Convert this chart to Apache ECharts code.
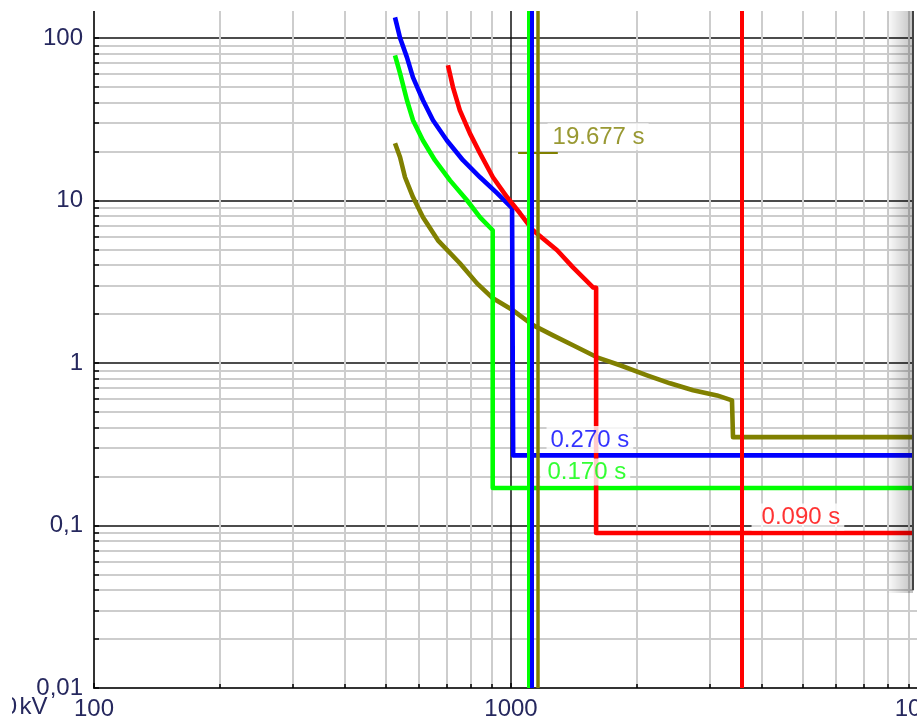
<!DOCTYPE html>
<html><head><meta charset="utf-8">
<script src="https://cdn.jsdelivr.net/npm/echarts@6/dist/echarts.min.js"></script>
<style>html,body{margin:0;padding:0;background:#fff}#c{width:917px;height:722px}</style>
</head><body><div id="c"></div>
<script>
// ---- data (current in A, time in s) ----
const xDecades = [100, 1000, 10000];
const yDecades = [0.01, 0.1, 1, 10, 100];
const blueCurve = [[527,134],[542,100],[563,76],[582,57.3],[615,41.4],[650,31.2],[702,23.4],[767,17.7],[843,13.9],[926,11.1],[1006,8.96],[1012,8.9],[1012,0.27],[10000,0.27]];
const greenCurve = [[527,78.3],[542,60.6],[563,41.4],[582,31.2],[615,23.4],[657,17.7],[714,13.3],[785,10.0],[843,7.88],[904,6.56],[904,0.17],[10000,0.17]];
const redCurve = [[706,67.9],[726,49.7],[754,35.9],[797,25.9],[843,19.5],[905,13.9],[978,10.5],[1051,8.34],[1129,6.56],[1290,4.94],[1408,3.88],[1573,2.92],[1600,2.9],[1600,0.09],[10000,0.09]];
const oliveCurve = [[527,22.5],[542,18.45],[557,13.9],[582,10.5],[615,7.88],[668,5.69],[754,4.11],[829,3.09],[905,2.5],[1011,2.11],[1129,1.71],[1261,1.48],[1408,1.285],[1608,1.084],[1826,0.968],[2120,0.84],[2406,0.75],[2733,0.679],[3119,0.632],[3388,0.589],[3407,0.58],[3407,0.35],[10000,0.35]];
const limitGreen = 1100, limitBlue = 1123, limitOlive = 1159, limitRed = 3575;
const oliveMarkTime = 19.677;
const oliveMarkRange = [1040, 1295];
const labelTexts = ['19.677 s', '0.270 s', '0.170 s', '0.090 s'];
const labelAnchors = [[1227, 19.677], [1220, 0.27], [1180, 0.17], [3785, 0.09]];

const C = {blue:'#0000ff', green:'#00ff00', red:'#ff0000', olive:'#808000'};
const FONT = 'Liberation Sans, Arial, sans-serif';
const AXC = '#26285e';

function fmt(v){
  const n = Number(v.toPrecision(6));
  return String(n).replace('.', ',');
}

function curve(name, data, color, limitX, extra){
  const ml = {
    silent:true, symbol:'none', animation:false,
    label:{show:false},
    lineStyle:{color:color, width: name==='olive'?3.5:4, type:'solid'},
    data:[{xAxis:limitX}]
  };
  if (extra) ml.data.push(extra);
  return {
    name, type:'line', data, showSymbol:false, symbol:'none',
    lineStyle:{color, width:4.6, join:'round'}, itemStyle:{color},
    animation:false, markLine: ml
  };
}

const labelColors = [C.olive, C.blue, C.green, C.red];
const labelPads = [[2,4,1,5],[2,4,1,4],[2,4,1,7],[2,4,1,10]];

const chart = echarts.init(document.getElementById('c'), null, {renderer:'canvas'});
chart.setOption({
  animation:false,
  backgroundColor:'#fff',
  grid:{left:94, width:834, bottom:34, height:812.5, containLabel:false, outerBoundsMode:'none'},
  xAxis:{
    type:'log', logBase:10, min:xDecades[0], max:xDecades[xDecades.length-1],
    axisLine:{show:true, onZero:false, lineStyle:{color:'#333', width:2}},
    axisTick:{show:true, inside:true, length:5, lineStyle:{color:'#000', width:1.5}},
    minorTick:{show:true, splitNumber:9, length:4, lineStyle:{color:'#000', width:1.5}},
    splitLine:{show:true, lineStyle:{color:'#111', width:1.5}},
    minorSplitLine:{show:true, lineStyle:{color:'#cdcdcd', width:2}},
    axisLabel:{fontSize:24, color:AXC, fontFamily:FONT, margin:9, showMinLabel:true, showMaxLabel:true, hideOverlap:false, formatter:fmt}
  },
  yAxis:{
    type:'log', logBase:10, min:yDecades[0], max:1000,
    axisLine:{show:true, onZero:false, lineStyle:{color:'#333', width:2}},
    axisTick:{show:true, inside:true, length:5, lineStyle:{color:'#000', width:1.5}},
    minorTick:{show:true, splitNumber:9, length:5, lineStyle:{color:'#000', width:1.5}},
    splitLine:{show:true, lineStyle:{color:'#111', width:1.5}},
    minorSplitLine:{show:true, lineStyle:{color:'#cdcdcd', width:2}},
    axisLabel:{fontSize:24, color:AXC, fontFamily:FONT, margin:11, showMinLabel:true, formatter:fmt}
  },
  series:[
    curve('olive', oliveCurve, C.olive, limitOlive,
      [{coord:[oliveMarkRange[0], oliveMarkTime], lineStyle:{color:C.olive, width:2}},
       {coord:[oliveMarkRange[1], oliveMarkTime]}]),
    curve('green', greenCurve, C.green, limitGreen),
    curve('blue', blueCurve, C.blue, limitBlue),
    curve('red', redCurve, C.red, limitRed),
    {
      type:'scatter', symbol:'circle', symbolSize:1, itemStyle:{color:'rgba(0,0,0,0)'},
      z:5, animation:false, silent:true,
      data: labelAnchors.map((p,i)=>({
        value:p,
        label:{
          show:true, formatter:labelTexts[i], position:[0,0], align:'left', verticalAlign:'bottom',
          offset:[0,-2],
          color:labelColors[i], fontSize:24, fontFamily:FONT, lineHeight:24,
          backgroundColor:'#fff', padding:labelPads[i]
        }
      }))
    }
  ],
  graphic:[
    {type:'rect', shape:{x:0,y:0,width:917,height:11}, style:{fill:'#fff'}, z:100, silent:true},
    {type:'rect', shape:{x:886,y:11,width:27,height:582},
      style:{fill:{type:'linear',x:0,y:0,x2:1,y2:0,colorStops:[{offset:0,color:'rgba(0,0,0,0)'},{offset:1,color:'rgba(0,0,0,0.24)'}]}}, z:100, silent:true},
    {type:'rect', shape:{x:914,y:0,width:3,height:593}, style:{fill:'#fff'}, z:100, silent:true},
    {type:'line', shape:{x1:913,y1:11,x2:913,y2:590}, style:{stroke:'#444', lineWidth:2}, z:101, silent:true},
    {type:'text', x:3.7, y:707, style:{text:'0', font:'24px '+FONT, fill:AXC, textVerticalAlign:'middle'}, z:100, silent:true},
    {type:'rect', shape:{x:0,y:694,width:12,height:28}, style:{fill:'#fff'}, z:101, silent:true},
    {type:'text', x:19.5, y:707, style:{text:'kV', font:'24px '+FONT, fill:AXC, textVerticalAlign:'middle'}, z:100, silent:true}
  ]
});
</script></body></html>
